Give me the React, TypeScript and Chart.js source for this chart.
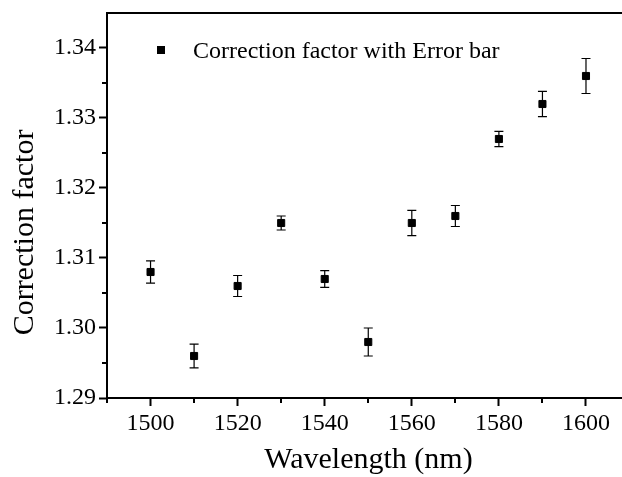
import React, { useEffect, useRef } from 'react';
import { Chart, registerables } from 'chart.js';

Chart.register(...registerables);

// ---- data ----
const wavelengths = [1500, 1510, 1520, 1530, 1540, 1550, 1560, 1570, 1580, 1590, 1600];
const factors = [1.308, 1.296, 1.306, 1.315, 1.307, 1.298, 1.315, 1.316, 1.327, 1.332, 1.336];
const errors = [0.0016, 0.0017, 0.0015, 0.001, 0.0012, 0.002, 0.0018, 0.0015, 0.0011, 0.0018, 0.0025];

const xMajorTicks = [1500, 1520, 1540, 1560, 1580, 1600];
const xMinorTicks = [1490, 1510, 1530, 1550, 1570, 1590];
const yMajorTicks = [1.29, 1.3, 1.31, 1.32, 1.33, 1.34];
const yMinorTicks = [1.295, 1.305, 1.315, 1.325, 1.335];

const legendLabel = 'Correction factor with Error bar';
const xTitle = 'Wavelength (nm)';
const yTitle = 'Correction factor';

const FONT = "'Liberation Serif', 'Times New Roman', serif";

const decorPlugin = {
  id: 'decor',
  beforeDatasetsDraw(chart: any) {
    const ctx = chart.ctx;
    const xs = chart.scales.x;
    const ys = chart.scales.y;
    ctx.save();
    ctx.strokeStyle = '#000';
    ctx.lineWidth = 1.2;
    const cap = 4.5;
    wavelengths.forEach((w, i) => {
      const px = xs.getPixelForValue(w);
      const top = ys.getPixelForValue(factors[i] + errors[i]);
      const bot = ys.getPixelForValue(factors[i] - errors[i]);
      ctx.beginPath();
      ctx.moveTo(px, top);
      ctx.lineTo(px, bot);
      ctx.moveTo(px - cap, top);
      ctx.lineTo(px + cap, top);
      ctx.moveTo(px - cap, bot);
      ctx.lineTo(px + cap, bot);
      ctx.stroke();
    });
    ctx.restore();
  },
  afterDraw(chart: any) {
    const ctx = chart.ctx;
    const xs = chart.scales.x;
    const ys = chart.scales.y;
    const area = chart.chartArea;
    ctx.save();
    ctx.strokeStyle = '#000';
    ctx.lineWidth = 2;
    // top frame line
    ctx.beginPath();
    ctx.moveTo(area.left - 1, area.top);
    ctx.lineTo(area.right, area.top);
    ctx.stroke();
    // minor ticks
    ctx.beginPath();
    xMinorTicks.forEach((v) => {
      const px = Math.round(xs.getPixelForValue(v));
      ctx.moveTo(px, area.bottom);
      ctx.lineTo(px, area.bottom + 5);
    });
    yMinorTicks.forEach((v) => {
      const py = Math.round(ys.getPixelForValue(v));
      ctx.moveTo(area.left, py);
      ctx.lineTo(area.left - 5, py);
    });
    ctx.stroke();

    // axis titles
    ctx.fillStyle = '#000';
    ctx.font = `30px ${FONT}`;
    ctx.textAlign = 'center';
    ctx.textBaseline = 'alphabetic';
    ctx.fillText(xTitle, (area.left + area.right) / 2 + 4, 468);
    ctx.save();
    ctx.translate(33, (area.top + area.bottom) / 2 + 27);
    ctx.rotate(-Math.PI / 2);
    ctx.fillText(yTitle, 0, 0);
    ctx.restore();

    // legend
    ctx.fillRect(area.left + 50, area.top + 33, 8, 8);
    ctx.font = `24px ${FONT}`;
    ctx.textAlign = 'left';
    ctx.fillText(legendLabel, area.left + 86, area.top + 45);
    ctx.restore();
  },
};

export default function App() {
  const canvasRef = useRef<HTMLCanvasElement | null>(null);

  useEffect(() => {
    document.body.style.margin = '0';
    const canvas = canvasRef.current;
    if (!canvas) return;
    const chart = new Chart(canvas, {
      type: 'scatter',
      data: {
        datasets: [
          {
            label: legendLabel,
            data: wavelengths.map((w, i) => ({ x: w, y: factors[i] })),
            pointStyle: 'rect',
            pointRadius: 5,
            pointHoverRadius: 5,
            backgroundColor: '#000',
            borderColor: '#000',
            borderWidth: 1,
            showLine: false,
          },
        ],
      },
      options: {
        responsive: false,
        animation: false,
        devicePixelRatio: 1,
        layout: { autoPadding: false, padding: { top: 13, left: 0, right: 0, bottom: 0 } },
        plugins: {
          legend: { display: false },
          tooltip: { enabled: false },
          title: { display: false },
        },
        scales: {
          x: {
            type: 'linear',
            min: 1490,
            max: 1608.27,
            afterBuildTicks: (s: any) => {
              s.ticks = xMajorTicks.map((value) => ({ value }));
            },
            afterFit: (s: any) => {
              s.height = 79;
              s.paddingLeft = 0;
              s.paddingRight = 0;
            },
            ticks: {
              color: '#000',
              font: { family: FONT, size: 24 },
              padding: 3,
              maxRotation: 0,
              autoSkip: false,
              callback: (v: any) => String(v),
            },
            grid: {
              display: true,
              drawOnChartArea: false,
              drawTicks: true,
              tickLength: 8,
              tickWidth: 2,
              tickColor: '#000',
            },
            border: { display: true, width: 2, color: '#000' },
          },
          y: {
            type: 'linear',
            min: 1.29,
            max: 1.345,
            afterBuildTicks: (s: any) => {
              s.ticks = yMajorTicks.map((value) => ({ value }));
            },
            afterFit: (s: any) => {
              s.width = 107;
              s.paddingTop = 0;
              s.paddingBottom = 0;
            },
            ticks: {
              color: '#000',
              font: { family: FONT, size: 24 },
              padding: 3,
              autoSkip: false,
              callback: (v: any) => Number(v).toFixed(2),
            },
            grid: {
              display: true,
              drawOnChartArea: false,
              drawTicks: true,
              tickLength: 8,
              tickWidth: 2,
              tickColor: '#000',
            },
            border: { display: true, width: 2, color: '#000' },
          },
        },
      },
      plugins: [decorPlugin],
    } as any);
    return () => chart.destroy();
  }, []);

  return (
    <div style={{ position: 'absolute', left: 0, top: 0, width: 622, height: 477, background: '#fff' }}>
      <canvas ref={canvasRef} width={622} height={477} />
    </div>
  );
}
